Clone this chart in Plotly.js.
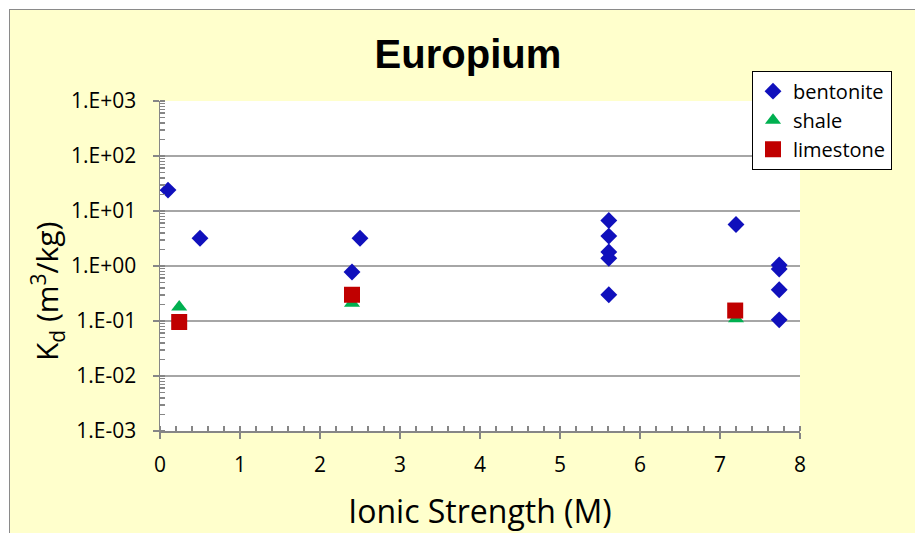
<!DOCTYPE html>
<html>
<head>
<meta charset="utf-8">
<script src="https://cdn.plot.ly/plotly-3.0.1.min.js"></script>
<style>
  html, body { margin: 0; padding: 0; background: #ffffff; overflow: hidden; }
  #chart { position: absolute; left: 9px; top: 9px; width: 905px; height: 523px;
           border-left: 1.5px solid #8a8a8a; border-top: 1.5px solid #8a8a8a; }
</style>
</head>
<body>
<div id="chart"></div>
<script>
// Bentonite data
const bentoniteX = [0.1, 0.5, 2.4, 2.5, 5.61, 5.61, 5.61, 5.61, 5.61, 7.2, 7.74, 7.74, 7.74, 7.74];
const bentoniteY = [24, 3.2, 0.78, 3.2, 6.7, 3.5, 1.8, 1.38, 0.30, 5.7, 1.04, 0.88, 0.37, 0.105];
// Shale data
const shaleX = [0.24, 2.4, 7.2];
const shaleY = [0.18, 0.21, 0.11];
// Limestone data
const limestoneX = [0.24, 2.4, 7.19];
const limestoneY = [0.096, 0.30, 0.155];

const yTickVals = [0.001, 0.01, 0.1, 1, 10, 100, 1000];
const yTickText = ["1.E-03", "1.E-02", "1.E-01", "1.E+00", "1.E+01", "1.E+02", "1.E+03"];
const xTickVals = [0, 1, 2, 3, 4, 5, 6, 7, 8];

const FONT = "'Open Sans', 'Noto Sans', sans-serif";
const AXIS_COLOR = "#868686";

const traces = [
  { x: bentoniteX, y: bentoniteY, name: "bentonite", type: "scatter", mode: "markers",
    marker: { symbol: "diamond", size: 13, color: "#1010BC" } },
  { x: shaleX, y: shaleY, name: "shale", type: "scatter", mode: "markers",
    marker: { symbol: "triangle-up", size: 14, color: "#00B050" } },
  { x: limestoneX, y: limestoneY, name: "limestone", type: "scatter", mode: "markers",
    marker: { symbol: "square", size: 16, color: "#C00000" } }
];

const layout = {
  width: 905, height: 523,
  margin: { l: 150, r: 115, t: 91, b: 102, pad: 0 },
  paper_bgcolor: "#FFFFCC",
  plot_bgcolor: "#FFFFFF",
  font: { family: FONT, color: "#000000" },
  title: { text: "<b>Europium</b>", font: { family: "'Liberation Sans', Arial, sans-serif", size: 40, color: "#000" },
           x: 0.506, xref: "container", xanchor: "center", y: 0.915, yanchor: "middle" },
  showlegend: true,
  legend: { x: 0.925, y: 1.092, xanchor: "left", yanchor: "top", bgcolor: "#FFFFFF",
            bordercolor: "#000000", borderwidth: 1, font: { family: FONT, size: 20 },
            tracegroupgap: 0, itemwidth: 30 },
  xaxis: {
    range: [0, 8], tickmode: "array", tickvals: xTickVals,
    showgrid: false, zeroline: false, showline: true, linecolor: AXIS_COLOR, linewidth: 1.5,
    ticks: "outside", ticklen: 6, tickcolor: AXIS_COLOR, tickwidth: 1.5,
    tickfont: { family: FONT, size: 21 }, ticklabelstandoff: 8,
    minor: { ticks: "inside", ticklen: 5, tickcolor: AXIS_COLOR, dtick: 0.2, showgrid: false },
    title: { text: "Ionic Strength (M)", font: { family: FONT, size: 32 }, standoff: 24 }
  },
  yaxis: {
    type: "log", range: [-3, 3], tickmode: "array", tickvals: yTickVals, ticktext: yTickText,
    showgrid: true, gridcolor: "#A6A6A6", gridwidth: 1.5,
    zeroline: false, showline: true, linecolor: AXIS_COLOR, linewidth: 1.5,
    ticks: "outside", ticklen: 6, tickcolor: AXIS_COLOR, tickwidth: 1.5,
    tickfont: { family: FONT, size: 21 }, ticklabelstandoff: 12,
    minor: { ticks: "inside", ticklen: 5, tickcolor: AXIS_COLOR, dtick: "D1", showgrid: false }
  },
  annotations: [
    { text: "K<sub>d</sub> (m<sup>3</sup>/kg)", textangle: -90, showarrow: false,
      xref: "paper", yref: "paper", x: -0.176, xanchor: "center", y: 0.425, yanchor: "middle",
      font: { family: FONT, size: 30, color: "#000" } }
  ]
};

Plotly.newPlot("chart", traces, layout, { displayModeBar: false, staticPlot: true });
</script>
</body>
</html>
